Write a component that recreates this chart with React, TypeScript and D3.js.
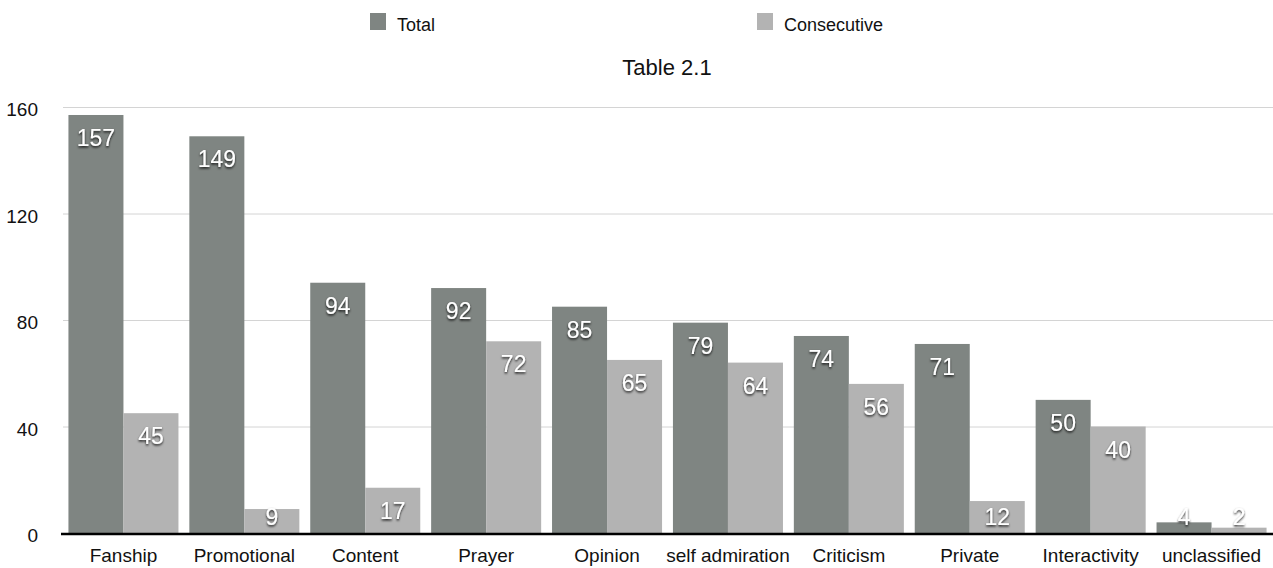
import * as d3 from "d3";
import { useEffect, useRef } from "react";

const categories = [
  "Fanship",
  "Promotional",
  "Content",
  "Prayer",
  "Opinion",
  "self admiration",
  "Criticism",
  "Private",
  "Interactivity",
  "unclassified",
];
const totalValues = [157, 149, 94, 92, 85, 79, 74, 71, 50, 4];
const consecutiveValues = [45, 9, 17, 72, 65, 64, 56, 12, 40, 2];
const seriesNames = ["Total", "Consecutive"];
const yTicks = [0, 40, 80, 120, 160];

const App = () => {
  const ref = useRef<SVGSVGElement>(null);

  useEffect(() => {
    const svg = d3.select(ref.current);
    svg.selectAll("*").remove();

    const width = 1273;
    const height = 568;
    const font = "'Liberation Sans', Arial, Helvetica, sans-serif";
    const colors = ["#7f8582", "#b3b3b3"];

    svg.attr("width", width).attr("height", height).style("font-family", font);

    // soft drop shadow behind the white value labels
    const defs = svg.append("defs");
    defs
      .append("filter")
      .attr("id", "shadow")
      .attr("x", "-30%")
      .attr("y", "-30%")
      .attr("width", "160%")
      .attr("height", "160%")
      .append("feDropShadow")
      .attr("dx", 0)
      .attr("dy", 1.5)
      .attr("stdDeviation", 1.2)
      .attr("flood-color", "#000")
      .attr("flood-opacity", 0.85);

    const x = d3
      .scaleBand()
      .domain(categories)
      .range([63, 1272])
      .paddingInner(0.09)
      .paddingOuter(0.045);

    const xInner = d3
      .scaleBand()
      .domain(seriesNames)
      .range([0, x.bandwidth()]);

    const y = d3.scaleLinear().domain([0, 160]).range([533, 107]);

    // gridlines
    svg
      .append("g")
      .selectAll("line")
      .data(yTicks.filter((t) => t > 0))
      .join("line")
      .attr("x1", 63)
      .attr("x2", width)
      .attr("y1", (d) => y(d) + 0.5)
      .attr("y2", (d) => y(d) + 0.5)
      .attr("stroke", "#d4d4d4")
      .attr("stroke-width", 1);

    // y tick labels
    svg
      .append("g")
      .selectAll("text")
      .data(yTicks)
      .join("text")
      .attr("x", 38)
      .attr("y", (d) => y(d) + 2.5)
      .attr("text-anchor", "end")
      .attr("dominant-baseline", "central")
      .attr("font-size", 19)
      .attr("fill", "#111")
      .text((d) => d);

    const rows = categories.map((c, i) => ({
      category: c,
      values: [totalValues[i], consecutiveValues[i]],
    }));

    const groups = svg
      .append("g")
      .selectAll("g")
      .data(rows)
      .join("g")
      .attr("transform", (d) => `translate(${x(d.category)},0)`);

    groups
      .selectAll("rect")
      .data((d) => d.values.map((v, j) => ({ v, s: seriesNames[j], j })))
      .join("rect")
      .attr("x", (d) => xInner(d.s)!)
      .attr("width", xInner.bandwidth())
      .attr("y", (d) => y(d.v))
      .attr("height", (d) => y(0) - y(d.v))
      .attr("fill", (d) => colors[d.j]);

    groups
      .selectAll("text")
      .data((d) => d.values.map((v, j) => ({ v, s: seriesNames[j] })))
      .join("text")
      .attr("x", (d) => xInner(d.s)! + xInner.bandwidth() / 2)
      .attr("y", (d) => Math.min(y(d.v) + 23, 517))
      .attr("text-anchor", "middle")
      .attr("dominant-baseline", "central")
      .attr("font-size", 23)
      .attr("fill", "#fff")
      .attr("filter", "url(#shadow)")
      .text((d) => d.v);

    // baseline axis
    svg
      .append("line")
      .attr("x1", 61)
      .attr("x2", width)
      .attr("y1", y(0) + 1)
      .attr("y2", y(0) + 1)
      .attr("stroke", "#000")
      .attr("stroke-width", 2.5);

    // category labels
    svg
      .append("g")
      .selectAll("text")
      .data(categories)
      .join("text")
      .attr("x", (d) => x(d)! + x.bandwidth() / 2)
      .attr("y", 562)
      .attr("text-anchor", "middle")
      .attr("font-size", 19)
      .attr("fill", "#111")
      .text((d) => d);

    // legend
    const legendX = [370, 757];
    const legend = svg
      .append("g")
      .selectAll("g")
      .data(seriesNames)
      .join("g")
      .attr("transform", (d, i) => `translate(${legendX[i]},13)`);
    legend
      .append("rect")
      .attr("width", 16)
      .attr("height", 17)
      .attr("fill", (d, i) => colors[i]);
    legend
      .append("text")
      .attr("x", 27)
      .attr("y", 12)
      .attr("dominant-baseline", "central")
      .attr("font-size", 18)
      .attr("fill", "#111")
      .text((d) => d);

    // title
    svg
      .append("text")
      .attr("x", 667)
      .attr("y", 67)
      .attr("text-anchor", "middle")
      .attr("dominant-baseline", "central")
      .attr("font-size", 22)
      .attr("fill", "#111")
      .text("Table 2.1");
  }, []);

  return (
    <svg
      ref={ref}
      style={{ position: "absolute", left: 0, top: 0, background: "#fff" }}
    ></svg>
  );
};

export default App;
